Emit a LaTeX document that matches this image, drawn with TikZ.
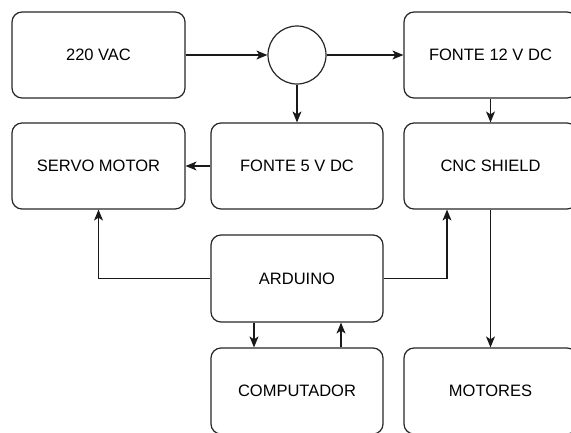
\documentclass[tikz,border=0pt]{standalone}
\usepackage{fontspec}
\setmainfont{Liberation Sans}
\usetikzlibrary{arrows.meta,calc}
\tikzset{
  blk/.style={draw=black!85, line width=1.2pt, rounded corners=10pt, minimum width=173pt, minimum height=86pt, inner sep=0pt, font=\fontsize{16.5}{19}\selectfont},
  junc/.style={draw=black!85, line width=1.2pt, circle, minimum size=58pt, inner sep=0pt},
  conn/.style={draw=black!90, line width=1.1pt, -{Stealth[length=11pt,width=9pt,inset=3pt]}}
}
\begin{document}
\begin{tikzpicture}[x=1pt,y=-1pt]
\useasboundingbox (0,0) rectangle (571,432);
\clip (0,0) rectangle (571,432);
\node[blk] (vac) at (98.5,55) {220 VAC};
\node[junc] (circ) at (297,55) {};
\node[blk] (f12) at (490.5,55) {FONTE 12 V DC};
\node[blk] (servo) at (98.5,166) {SERVO MOTOR};
\node[blk, minimum width=172pt] (f5) at (297,166) {FONTE 5 V DC};
\node[blk] (cnc) at (490.5,166) {CNC SHIELD};
\node[blk, minimum width=172pt, minimum height=87pt] (ard) at (297,278.5) {ARDUINO};
\node[blk, minimum width=172pt] (comp) at (297,391) {COMPUTADOR};
\node[blk] (mot) at (490.5,391) {MOTORES};
\coordinate (cncin) at ($(cnc.south)+(-43.5,0)$);
\coordinate (ardout) at ($(ard.south)+(-43,0)$);
\coordinate (ardin) at ($(ard.south)+(44,0)$);
\draw[conn] (vac.east) -- (circ.west);
\draw[conn] (circ.east) -- (f12.west);
\draw[conn] (circ.south) -- (f5.north);
\draw[conn] (f12.south) -- (cnc.north);
\draw[conn] (f5.west) -- (servo.east);
\draw[conn] (ard.west) -| (servo.south);
\draw[conn] (ard.east) -| (cncin);
\draw[conn] (cnc.south) -- (mot.north);
\draw[conn] (ardout) -- (ardout |- comp.north);
\draw[conn] (ardin |- comp.north) -- (ardin);
\end{tikzpicture}
\end{document}
